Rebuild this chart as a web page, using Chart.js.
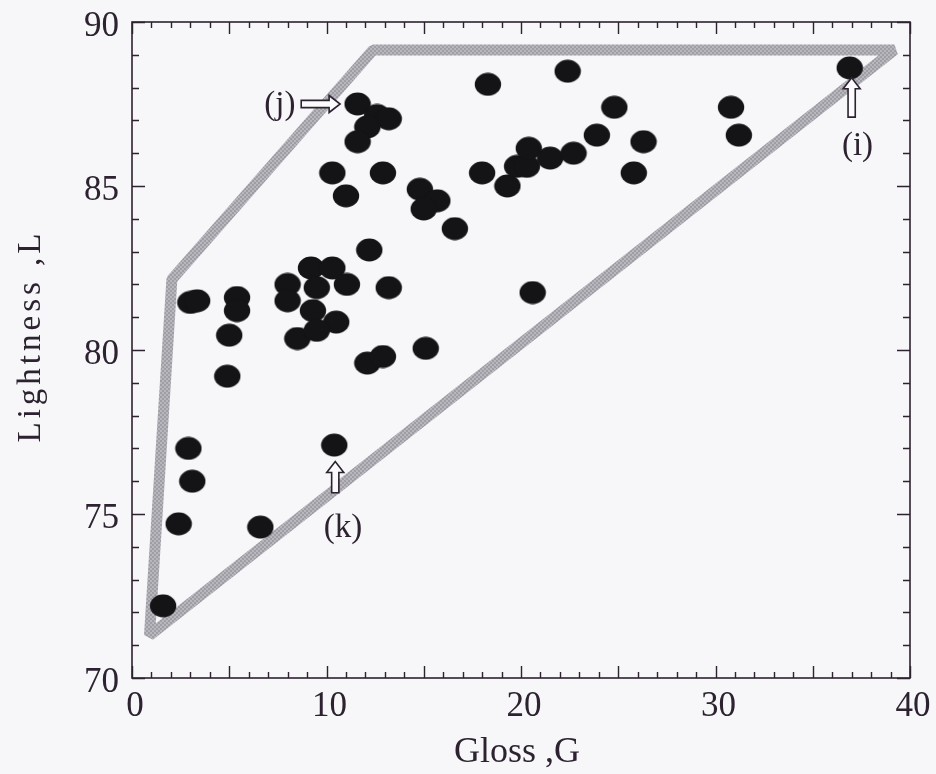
<!DOCTYPE html>
<html>
<head>
<meta charset="utf-8">
<title>Lightness vs Gloss</title>
<script src="https://cdn.jsdelivr.net/npm/chart.js@4.4.1/dist/chart.umd.min.js"></script>
<style>
  html, body { margin: 0; padding: 0; background: #f7f6f8; }
  #wrap { width: 936px; height: 774px; }
</style>
</head>
<body>
<div id="wrap"><canvas id="c" width="936" height="774"></canvas></div>
<script>
// Measured samples: gloss G and lightness L
const glossG = [
  1.6, 2.4, 6.6, 2.9, 3.1, 3.0, 3.35, 5.4, 5.4, 5.0, 4.9, 10.4,
  8.0, 8.0, 9.2, 10.3, 11.05, 9.5, 9.3, 10.5, 8.5, 9.5,
  12.2, 13.2, 12.1, 12.9, 15.1,
  11.6, 12.6, 13.2, 12.1, 11.6,
  10.3, 11.0, 12.9, 14.8, 15.7, 15.0, 16.6,
  18.3, 18.0, 22.4, 19.3, 19.8, 20.3, 20.4, 21.5, 22.7, 23.9, 24.8,
  26.3, 25.8, 30.8, 31.2, 36.9, 20.6
];
const lightnessL = [
  72.2, 74.7, 74.6, 77.0, 76.0, 81.45, 81.5, 81.6, 81.2, 80.45, 79.2, 77.1,
  82.0, 81.5, 82.5, 82.5, 82.0, 81.9, 81.2, 80.85, 80.35, 80.6,
  83.05, 81.9, 79.6, 79.8, 80.05,
  87.5, 87.15, 87.05, 86.8, 86.35,
  85.4, 84.7, 85.4, 84.9, 84.55, 84.3, 83.7,
  88.1, 85.4, 88.5, 85.0, 85.6, 85.6, 86.15, 85.85, 86.0, 86.55, 87.4,
  86.35, 85.4, 87.4, 86.55, 88.6, 81.75
];

// Outline enclosing the samples (closed path, starts/ends mid top edge)
const boundaryG = [25.0, 39.2, 0.9, 2.05, 12.4, 25.0];
const boundaryL = [89.15, 89.15, 71.3, 82.15, 89.15, 89.15];

// Axis ticks
const xTickValues = [0, 10, 20, 30, 40];
const yTickValues = [70, 75, 80, 85, 90];

// Callouts: arrow tail -> tip, and label anchor
const calloutNames = ['(j)', '(k)', '(i)'];
const calloutTailG = [8.7, 10.45, 37.0];
const calloutTailL = [87.5, 75.65, 87.1];
const calloutTipG  = [10.7, 10.45, 37.0];
const calloutTipL  = [87.5, 76.6, 88.3];
const calloutTextG = [7.6, 10.85, 37.3];
const calloutTextL = [87.45, 74.55, 86.2];

const INK = '#2c2230';
const BG = '#f7f6f8';
const SERIF = '"Liberation Serif", "DejaVu Serif", serif';

// Filled elliptical dot used as the marker
function makeDot() {
  const c = document.createElement('canvas');
  c.width = 28; c.height = 24;
  const g = c.getContext('2d');
  g.fillStyle = '#141316';
  g.beginPath();
  g.ellipse(14, 12, 13.2, 11.4, 0, 0, Math.PI * 2);
  g.fill();
  return c;
}

// Stippled grey for the outline band
function makeStipple() {
  const c = document.createElement('canvas');
  c.width = 4; c.height = 4;
  const g = c.getContext('2d');
  g.fillStyle = '#b8b7bd';
  g.fillRect(0, 0, 4, 4);
  g.fillStyle = '#9f9ea5';
  g.fillRect(0, 0, 2, 2);
  g.fillRect(2, 2, 2, 2);
  return g.createPattern(c, 'repeat');
}

const samples = glossG.map((g, i) => ({ x: g, y: lightnessL[i] }));
const outline = boundaryG.map((g, i) => ({ x: g, y: boundaryL[i] }));

const bgPlugin = {
  id: 'paper',
  beforeDraw(chart) {
    const ctx = chart.ctx;
    ctx.save();
    ctx.fillStyle = BG;
    ctx.fillRect(0, 0, chart.width, chart.height);
    ctx.restore();
  }
};

// Frame with inward major/minor ticks on all four sides, plus axis titles
const framePlugin = {
  id: 'frame',
  afterDraw(chart) {
    const ctx = chart.ctx;
    const a = chart.chartArea;
    const xs = chart.scales.x, ys = chart.scales.y;
    ctx.save();
    ctx.strokeStyle = INK;
    ctx.lineWidth = 1.6;
    ctx.strokeRect(a.left, a.top, a.right - a.left, a.bottom - a.top);
    ctx.lineWidth = 1.4;
    ctx.beginPath();
    for (let v = xs.min; v <= xs.max; v += 1) {
      const px = Math.round(xs.getPixelForValue(v)) + 0.5;
      const len = (v % 5 === 0) ? 12 : 6;
      ctx.moveTo(px, a.bottom); ctx.lineTo(px, a.bottom - len);
      ctx.moveTo(px, a.top); ctx.lineTo(px, a.top + len);
    }
    for (let v = ys.min; v <= ys.max; v += 1) {
      const py = Math.round(ys.getPixelForValue(v)) + 0.5;
      const len = (v % 5 === 0) ? 13 : 7;
      ctx.moveTo(a.left, py); ctx.lineTo(a.left + len, py);
      ctx.moveTo(a.right, py); ctx.lineTo(a.right - len, py);
    }
    ctx.stroke();

    // axis titles
    ctx.fillStyle = INK;
    ctx.font = '36px ' + SERIF;
    ctx.textAlign = 'center';
    ctx.textBaseline = 'middle';
    ctx.fillText('Gloss ,G', (a.left + a.right) / 2 - 4, 753);
    ctx.translate(31, 336);
    ctx.rotate(-Math.PI / 2);
    ctx.letterSpacing = '4px';
    ctx.font = '33px ' + SERIF;
    ctx.fillText('Lightness ,L', 0, 0);
    ctx.restore();
  }
};

function hollowArrow(ctx, x0, y0, x1, y1) {
  const dx = x1 - x0, dy = y1 - y0;
  const L = Math.hypot(dx, dy);
  const ux = dx / L, uy = dy / L;
  const nx = -uy, ny = ux;
  const sw = 3.6, hw = 8.5, hl = 11;
  const bx = x1 - ux * hl, by = y1 - uy * hl;
  ctx.beginPath();
  ctx.moveTo(x0 + nx * sw, y0 + ny * sw);
  ctx.lineTo(bx + nx * sw, by + ny * sw);
  ctx.lineTo(bx + nx * hw, by + ny * hw);
  ctx.lineTo(x1, y1);
  ctx.lineTo(bx - nx * hw, by - ny * hw);
  ctx.lineTo(bx - nx * sw, by - ny * sw);
  ctx.lineTo(x0 - nx * sw, y0 - ny * sw);
  ctx.closePath();
  ctx.fillStyle = '#fbfafc';
  ctx.fill();
  ctx.strokeStyle = INK;
  ctx.lineWidth = 1.6;
  ctx.stroke();
}

const calloutPlugin = {
  id: 'callouts',
  afterDatasetsDraw(chart) {
    const ctx = chart.ctx;
    const xs = chart.scales.x, ys = chart.scales.y;
    ctx.save();
    calloutNames.forEach((name, i) => {
      hollowArrow(ctx,
        xs.getPixelForValue(calloutTailG[i]), ys.getPixelForValue(calloutTailL[i]),
        xs.getPixelForValue(calloutTipG[i]), ys.getPixelForValue(calloutTipL[i]));
      ctx.fillStyle = INK;
      ctx.font = '33px ' + SERIF;
      ctx.textAlign = 'center';
      ctx.textBaseline = 'middle';
      ctx.fillText(name, xs.getPixelForValue(calloutTextG[i]), ys.getPixelForValue(calloutTextL[i]));
    });
    ctx.restore();
  }
};

const dot = makeDot();
const ctx = document.getElementById('c').getContext('2d');

new Chart(ctx, {
  type: 'scatter',
  data: {
    datasets: [
      {
        label: 'outline',
        data: outline,
        showLine: true,
        borderColor: makeStipple(),
        borderWidth: 11,
        borderJoinStyle: 'bevel',
        borderCapStyle: 'butt',
        pointRadius: 0,
        fill: false,
        tension: 0,
        order: 2
      },
      {
        label: 'samples',
        data: samples,
        pointStyle: dot,
        pointRadius: 13,
        backgroundColor: '#141316',
        borderWidth: 0,
        order: 1
      }
    ]
  },
  options: {
    responsive: false,
    animation: false,
    events: [],
    layout: { padding: { top: 22, right: 26, left: 0, bottom: 0 } },
    plugins: {
      legend: { display: false },
      tooltip: { enabled: false },
      title: { display: false }
    },
    scales: {
      x: {
        type: 'linear',
        min: 0, max: 40,
        afterFit(s) { s.height = 96; },
        afterBuildTicks(s) { s.ticks = xTickValues.map(v => ({ value: v })); },
        grid: { display: false, drawTicks: true, tickLength: 11 },
        border: { display: false },
        ticks: {
          color: INK,
          font: { family: SERIF, size: 35, lineHeight: 1 },
          padding: 0,
          labelOffset: 3,
          maxRotation: 0
        }
      },
      y: {
        type: 'linear',
        min: 70, max: 90,
        afterFit(s) { s.width = 132; },
        afterBuildTicks(s) { s.ticks = yTickValues.map(v => ({ value: v })); },
        grid: { display: false, drawTicks: true, tickLength: 13 },
        border: { display: false },
        ticks: {
          color: INK,
          font: { family: SERIF, size: 35, lineHeight: 1 },
          padding: 0,
          labelOffset: 5
        }
      }
    }
  },
  plugins: [bgPlugin, framePlugin, calloutPlugin]
});
</script>
</body>
</html>
